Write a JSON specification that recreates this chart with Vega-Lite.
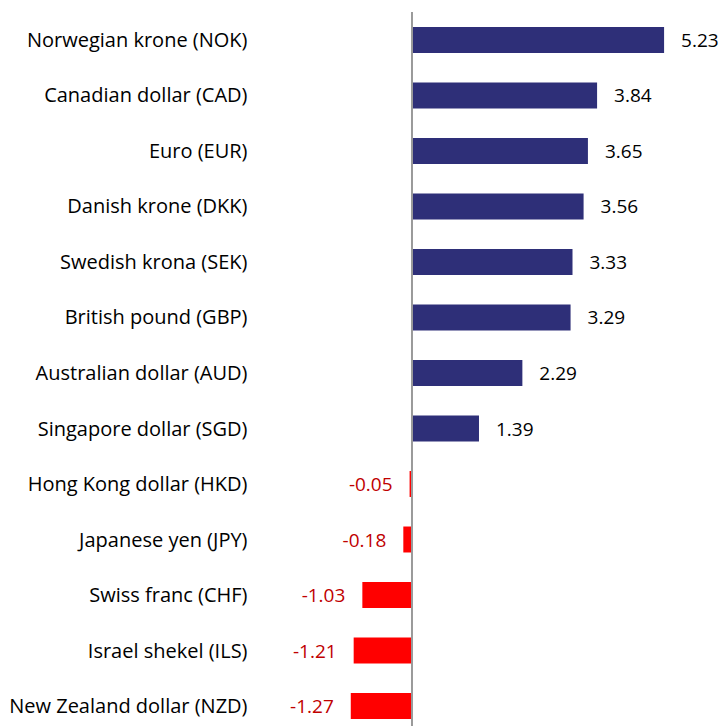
{
  "$schema": "https://vega.github.io/schema/vega-lite/v6.json",
  "autosize": "none",
  "padding": {"left": 255, "top": 12, "right": 0, "bottom": 0},
  "width": 469,
  "height": 722,
  "background": "white",
  "config": {
    "view": {"stroke": null},
    "font": "Open Sans",
    "locale": {"number": {"decimal": ".", "thousands": ",", "grouping": [3], "currency": ["$", ""], "minus": "-"}}
  },
  "data": {"values": [
    {"currency": "Norwegian krone (NOK)", "value": 5.23},
    {"currency": "Canadian dollar (CAD)", "value": 3.84},
    {"currency": "Euro (EUR)", "value": 3.65},
    {"currency": "Danish krone (DKK)", "value": 3.56},
    {"currency": "Swedish krona (SEK)", "value": 3.33},
    {"currency": "British pound (GBP)", "value": 3.29},
    {"currency": "Australian dollar (AUD)", "value": 2.29},
    {"currency": "Singapore dollar (SGD)", "value": 1.39},
    {"currency": "Hong Kong dollar (HKD)", "value": -0.05},
    {"currency": "Japanese yen (JPY)", "value": -0.18},
    {"currency": "Swiss franc (CHF)", "value": -1.03},
    {"currency": "Israel shekel (ILS)", "value": -1.21},
    {"currency": "New Zealand dollar (NZD)", "value": -1.27}
  ]},
  "encoding": {
    "y": {"field": "currency", "type": "nominal", "sort": null,
      "scale": {"paddingInner": 0.532, "paddingOuter": 0.2705},
      "axis": {"title": null, "domain": false, "ticks": false, "labelPadding": 8, "labelFontSize": 20, "labelColor": "#000000", "labelFont": "Open Sans", "labelLimit": 0, "labelOffset": 1}},
    "x": {"field": "value", "type": "quantitative", "scale": {"domain": [-3.257, 6.473], "nice": false, "zero": false}, "axis": null}
  },
  "layer": [
    {"mark": {"type": "bar"},
     "encoding": {"color": {"condition": {"test": "datum.value < 0", "value": "#FF0000"}, "value": "#2E2F78"}}},
    {"data": {"values": [{"x": 0}]},
     "mark": {"type": "rule", "color": "#9A9A9A", "strokeWidth": 2},
     "encoding": {"x": {"field": "x", "type": "quantitative"}, "y": {"value": 0}, "y2": {"value": 722}}},
    {"transform": [{"filter": "datum.value >= 0"}],
     "mark": {"type": "text", "align": "left", "dx": 17, "dy": 1, "fontSize": 19, "color": "#000000", "font": "Open Sans"},
     "encoding": {"text": {"field": "value", "type": "quantitative", "format": ".2f"}}},
    {"transform": [{"filter": "datum.value < 0"}],
     "mark": {"type": "text", "align": "right", "dx": -17, "dy": 1, "fontSize": 19, "color": "#C00000", "font": "Open Sans"},
     "encoding": {"text": {"field": "value", "type": "quantitative", "format": ".2f"}}}
  ]
}
